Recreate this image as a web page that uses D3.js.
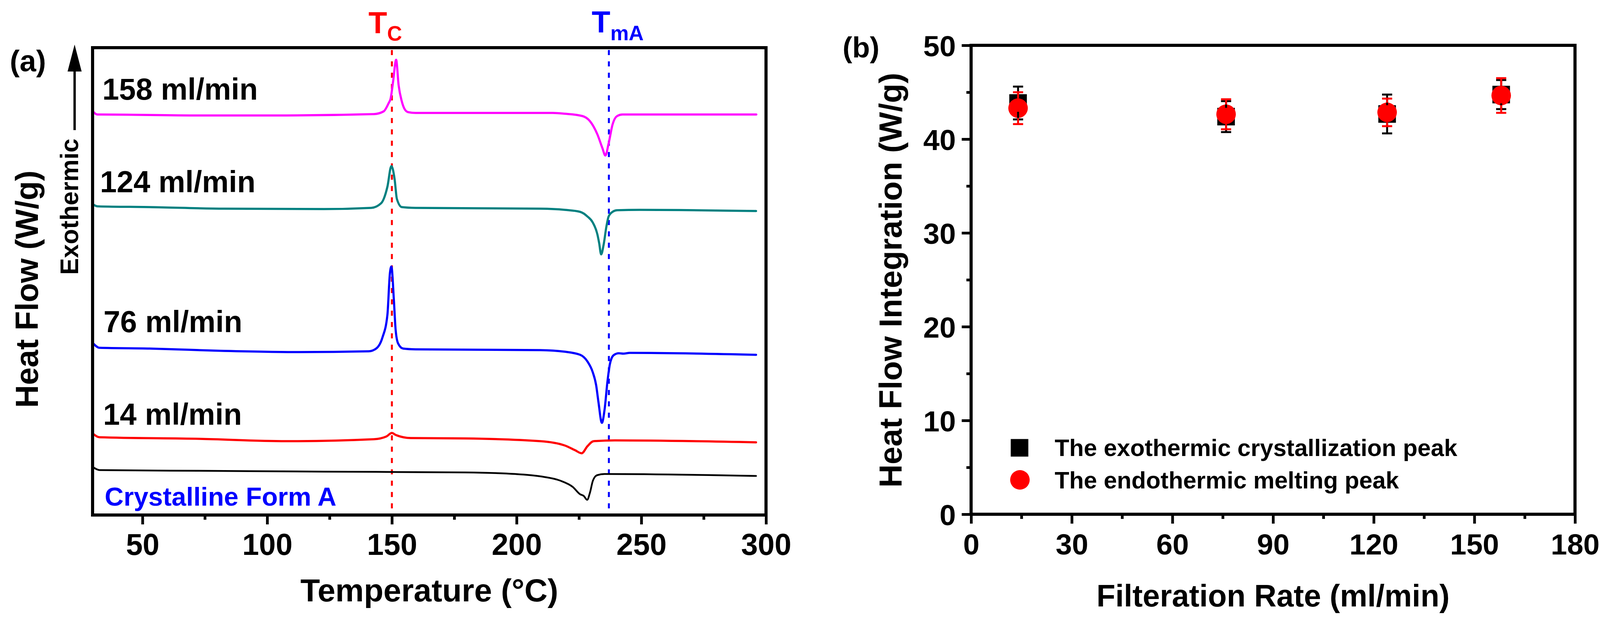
<!DOCTYPE html>
<html><head><meta charset="utf-8">
<script src="https://cdn.jsdelivr.net/npm/d3@7/dist/d3.min.js"></script>
<style>body{margin:0;background:#fff}svg{display:block}text{font-family:"Liberation Sans",Arial,sans-serif}</style>
</head><body>
<script>
// ---------- Panel (a) data: DSC curves (temperature °C, heat flow, arbitrary offset units) ----------
const curveLabels = ["158 ml/min", "124 ml/min", "76 ml/min", "14 ml/min", "Crystalline Form A"];
const curveColors = ["#FF00FF", "#008080", "#0000FF", "#FF0000", "#000000"];
const curve158 = [[30,10.34],[31.9,10.25],[32.8,10.25],[72.8,10.225],[102.8,10.225],[142.8,10.26],[146.7,10.33],[148.7,10.54],[149.5,10.66],[150.5,11.1],[151.7,11.65],[152.7,11.0],[154.0,10.58],[155.0,10.40],[156.5,10.31],[159.5,10.29],[214.5,10.29],[219.3,10.27],[226.4,10.21],[229.4,10.08],[232.4,9.74],[234.4,9.39],[235.6,9.20],[236.9,9.51],[238.5,10.0],[240.3,10.21],[242.4,10.25],[296.1,10.25]];
const curve124 = [[30,7.96],[31.9,7.90],[52.9,7.88],[82.8,7.84],[122.7,7.83],[141.7,7.86],[145.7,7.98],[148.2,8.40],[149.8,8.93],[151.1,8.59],[152.0,8.09],[154.0,7.88],[159.5,7.86],[209.5,7.84],[219.3,7.81],[225.4,7.76],[228.4,7.64],[230.5,7.49],[232.4,7.18],[233.1,6.96],[233.9,6.67],[234.9,6.92],[236.0,7.38],[236.9,7.64],[238.5,7.76],[240.3,7.80],[249.4,7.81],[296,7.78]];
const curve76 = [[30,4.41],[32.8,4.28],[52.9,4.26],[82.8,4.20],[112.7,4.17],[140.7,4.19],[143.7,4.26],[146.2,4.54],[148.2,5.12],[149.2,6.18],[149.8,6.36],[150.8,5.50],[151.5,4.74],[152.5,4.39],[154.5,4.26],[159.5,4.24],[209.5,4.22],[219.3,4.18],[225.5,4.10],[228.4,3.93],[230.5,3.66],[231.9,3.32],[232.8,2.90],[234.2,2.36],[235.3,2.71],[236.4,3.40],[237.4,3.86],[238.9,4.09],[241.0,4.14],[242.8,4.13],[245.4,4.15],[296,4.10]];
const curve14 = [[30,2.09],[32.8,1.99],[72.8,1.95],[107.7,1.89],[142.8,1.94],[147.8,2.01],[150.0,2.10],[151.5,2.05],[157.5,1.97],[179.4,1.96],[209.5,1.89],[219.3,1.78],[223.4,1.66],[226.1,1.58],[228.4,1.76],[230.9,1.89],[239.4,1.91],[296,1.86]];
const curveFormA = [[30.3,1.22],[32.8,1.15],[77.8,1.13],[122.7,1.11],[179.4,1.09],[199.5,1.05],[209.5,0.99],[217.5,0.88],[222.5,0.72],[225.5,0.53],[226.9,0.49],[228.3,0.39],[229.4,0.57],[230.6,0.88],[232.3,1.02],[235.3,1.05],[296,1.00]];
const curvesA = [curve158, curve124, curve76, curve14, curveFormA];
const labelLevelsA = [10.63, 8.26, 4.68, 2.315, 0.24];   // label baseline level (same units)
const tempMajorTicks = [50, 100, 150, 200, 250, 300];
const tempMinorTicks = [75, 125, 175, 225, 275];
const tempDomain = [30, 300];
const flowDomainA = [0, 11.96];
const tcTemp = 150, tmaTemp = 237;

// ---------- Panel (b) data ----------
const rates = [14, 76, 124, 158];
const exoPeak = [43.85, 42.4, 42.68, 44.75];
const exoErr = [1.75, 1.65, 2.07, 1.55];
const endoPeak = [43.3, 42.65, 42.85, 44.65];
const endoErr = [1.7, 1.6, 1.47, 1.85];
const rateMajorTicks = [0, 30, 60, 90, 120, 150, 180];
const rateMinorTicks = [15, 45, 75, 105, 135, 165];
const integMajorTicks = [0, 10, 20, 30, 40, 50];
const integMinorTicks = [5, 15, 25, 35, 45];
const legendLabels = ["The exothermic crystallization peak", "The endothermic melting peak"];

// ---------- drawing ----------
const W = 4120, H = 1602;
const svg = d3.select("body").append("svg").attr("width", W).attr("height", H);
svg.append("rect").attr("width", W).attr("height", H).attr("fill", "#fff");

const FW = 8; // frame stroke
// Panel A
const A = {l: 237, r: 1961, t: 122, b: 1318};
const xA = d3.scaleLinear().domain(tempDomain).range([A.l, A.r]);
const yA = d3.scaleLinear().domain(flowDomainA).range([A.b, A.t]);
const gA = svg.append("g");

// dashed reference lines
gA.append("line").attr("x1", xA(tcTemp)).attr("x2", xA(tcTemp)).attr("y1", A.t + 6).attr("y2", A.b - 4)
  .attr("stroke", "#FF0000").attr("stroke-width", 5).attr("stroke-dasharray", "13,16");
gA.append("line").attr("x1", xA(tmaTemp)).attr("x2", xA(tmaTemp)).attr("y1", A.t + 6).attr("y2", A.b - 4)
  .attr("stroke", "#0000FF").attr("stroke-width", 5).attr("stroke-dasharray", "13,16");

const lineA = d3.line().x(d => xA(d[0])).y(d => yA(d[1])).curve(d3.curveMonotoneX);
curvesA.forEach((c, i) => {
  gA.append("path").attr("d", lineA(c)).attr("fill", "none")
    .attr("stroke", curveColors[i]).attr("stroke-width", i === 4 ? 4.5 : 5.5)
    .attr("stroke-linejoin", "round").attr("stroke-linecap", "round");
});

// curve labels
const labelX = [262, 256, 265, 264, 268];
curveLabels.forEach((t, i) => {
  gA.append("text").attr("x", labelX[i]).attr("y", yA(labelLevelsA[i]))
    .attr("font-size", i === 4 ? 67 : 77).attr("font-weight", "bold")
    .attr("fill", i === 4 ? "#0000FF" : "#000").text(t);
});

// frame
gA.append("rect").attr("x", A.l).attr("y", A.t).attr("width", A.r - A.l).attr("height", A.b - A.t)
  .attr("fill", "none").attr("stroke", "#000").attr("stroke-width", FW);

// x axis A
const axA = gA.append("g").attr("transform", `translate(0,${A.b})`)
  .call(d3.axisBottom(xA).tickValues(tempMajorTicks).tickSize(24).tickFormat(d3.format("d")));
axA.select(".domain").remove();
axA.selectAll("line").attr("stroke-width", 7);
axA.selectAll("text").attr("y", 102).attr("dy", 0).attr("font-size", 77).attr("font-weight", "bold")
  .attr("font-family", "Liberation Sans, Arial, sans-serif").attr("fill", "#000");
const axAm = gA.append("g").attr("transform", `translate(0,${A.b})`)
  .call(d3.axisBottom(xA).tickValues(tempMinorTicks).tickSize(12).tickFormat(""));
axAm.select(".domain").remove();
axAm.selectAll("line").attr("stroke-width", 7);

// titles A
gA.append("text").attr("x", (A.l + A.r) / 2).attr("y", 1539).attr("text-anchor", "middle")
  .attr("font-size", 82).attr("font-weight", "bold").text("Temperature (°C)");
gA.append("text").attr("transform", "translate(97,740) rotate(-90)").attr("text-anchor", "middle")
  .attr("font-size", 81).attr("font-weight", "bold").text("Heat Flow (W/g)");
gA.append("text").attr("transform", "translate(200,529) rotate(-90)").attr("text-anchor", "middle")
  .attr("font-size", 64).attr("font-weight", "bold").text("Exothermic");
// arrow
gA.append("line").attr("x1", 191).attr("x2", 191).attr("y1", 333).attr("y2", 176)
  .attr("stroke", "#000").attr("stroke-width", 6);
gA.append("path").attr("d", "M191,114 L173,183 L209,183 Z").attr("fill", "#000");
gA.append("text").attr("x", 25).attr("y", 182).attr("font-size", 76).attr("font-weight", "bold").text("(a)");

// T labels
const tc = gA.append("text").attr("x", xA(tcTemp) - 60).attr("y", 85).attr("fill", "#FF0000").attr("font-weight", "bold");
tc.append("tspan").attr("font-size", 78).text("T");
tc.append("tspan").attr("font-size", 53).attr("dy", 19).text("C");
const tm = gA.append("text").attr("x", xA(tmaTemp) - 44).attr("y", 83).attr("fill", "#0000FF").attr("font-weight", "bold");
tm.append("tspan").attr("font-size", 78).text("T");
tm.append("tspan").attr("font-size", 53).attr("dy", 20).text("mA");

// Panel B
const B = {l: 2486, r: 4032, t: 116, b: 1316};
const xB = d3.scaleLinear().domain([0, 180]).range([B.l, B.r]);
const yB = d3.scaleLinear().domain([0, 50]).range([B.b, B.t]);
const gB = svg.append("g");

const SQ = 45, CR = 25, CAP = 13;
// squares
gB.selectAll("rect.sq").data(rates).join("rect").attr("class", "sq")
  .attr("x", d => xB(d) - SQ / 2).attr("y", (d, i) => yB(exoPeak[i]) - SQ / 2)
  .attr("width", SQ).attr("height", SQ).attr("fill", "#000");
// circles
gB.selectAll("circle.ci").data(rates).join("circle").attr("class", "ci")
  .attr("cx", d => xB(d)).attr("cy", (d, i) => yB(endoPeak[i])).attr("r", CR).attr("fill", "#FF0000");
// error bars drawn from symbol edge outward
function errBars(vals, errs, half, color) {
  rates.forEach((r, i) => {
    const x = xB(r), yc = yB(vals[i]), yt = yB(vals[i] + errs[i]), yb = yB(vals[i] - errs[i]);
    const g = gB.append("g").attr("stroke", color).attr("stroke-width", 5);
    g.append("line").attr("x1", x).attr("x2", x).attr("y1", yc - half).attr("y2", yt);
    g.append("line").attr("x1", x).attr("x2", x).attr("y1", yc + half).attr("y2", yb);
    g.append("line").attr("x1", x - CAP).attr("x2", x + CAP).attr("y1", yt).attr("y2", yt);
    g.append("line").attr("x1", x - CAP).attr("x2", x + CAP).attr("y1", yb).attr("y2", yb);
  });
}
errBars(exoPeak, exoErr, SQ / 2, "#000");
errBars(endoPeak, endoErr, CR, "#FF0000");

// legend
gB.append("rect").attr("x", 2610 - SQ / 2).attr("y", 1146 - SQ / 2).attr("width", SQ).attr("height", SQ).attr("fill", "#000");
gB.append("circle").attr("cx", 2611).attr("cy", 1228).attr("r", CR).attr("fill", "#FF0000");
gB.append("text").attr("x", 2700).attr("y", 1167).attr("font-size", 61).attr("font-weight", "bold").text(legendLabels[0]);
gB.append("text").attr("x", 2700).attr("y", 1250).attr("font-size", 61).attr("font-weight", "bold").text(legendLabels[1]);

// frame B
gB.append("rect").attr("x", B.l).attr("y", B.t).attr("width", B.r - B.l).attr("height", B.b - B.t)
  .attr("fill", "none").attr("stroke", "#000").attr("stroke-width", FW);

// axes B
const axBx = gB.append("g").attr("transform", `translate(0,${B.b})`)
  .call(d3.axisBottom(xB).tickValues(rateMajorTicks).tickSize(24).tickFormat(d3.format("d")));
axBx.select(".domain").remove();
axBx.selectAll("line").attr("stroke-width", 7);
axBx.selectAll("text").attr("y", 103).attr("dy", 0).attr("font-size", 75).attr("font-weight", "bold")
  .attr("font-family", "Liberation Sans, Arial, sans-serif").attr("fill", "#000");
const axBxm = gB.append("g").attr("transform", `translate(0,${B.b})`)
  .call(d3.axisBottom(xB).tickValues(rateMinorTicks).tickSize(12).tickFormat(""));
axBxm.select(".domain").remove();
axBxm.selectAll("line").attr("stroke-width", 7);

const axBy = gB.append("g").attr("transform", `translate(${B.l},0)`)
  .call(d3.axisLeft(yB).tickValues(integMajorTicks).tickSize(24).tickFormat(d3.format("d")));
axBy.select(".domain").remove();
axBy.selectAll("line").attr("stroke-width", 7);
axBy.selectAll("text").attr("x", -39).attr("dy", "0.36em").attr("font-size", 75).attr("font-weight", "bold")
  .attr("font-family", "Liberation Sans, Arial, sans-serif").attr("fill", "#000");
const axBym = gB.append("g").attr("transform", `translate(${B.l},0)`)
  .call(d3.axisLeft(yB).tickValues(integMinorTicks).tickSize(12).tickFormat(""));
axBym.select(".domain").remove();
axBym.selectAll("line").attr("stroke-width", 7);

gB.append("text").attr("x", (B.l + B.r) / 2).attr("y", 1552).attr("text-anchor", "middle")
  .attr("font-size", 79).attr("font-weight", "bold").text("Filteration Rate (ml/min)");
gB.append("text").attr("transform", "translate(2308,717) rotate(-90)").attr("text-anchor", "middle")
  .attr("font-size", 82).attr("font-weight", "bold").text("Heat Flow Integration (W/g)");
gB.append("text").attr("x", 2157).attr("y", 147).attr("font-size", 74).attr("font-weight", "bold").text("(b)");
</script>
</body></html>
